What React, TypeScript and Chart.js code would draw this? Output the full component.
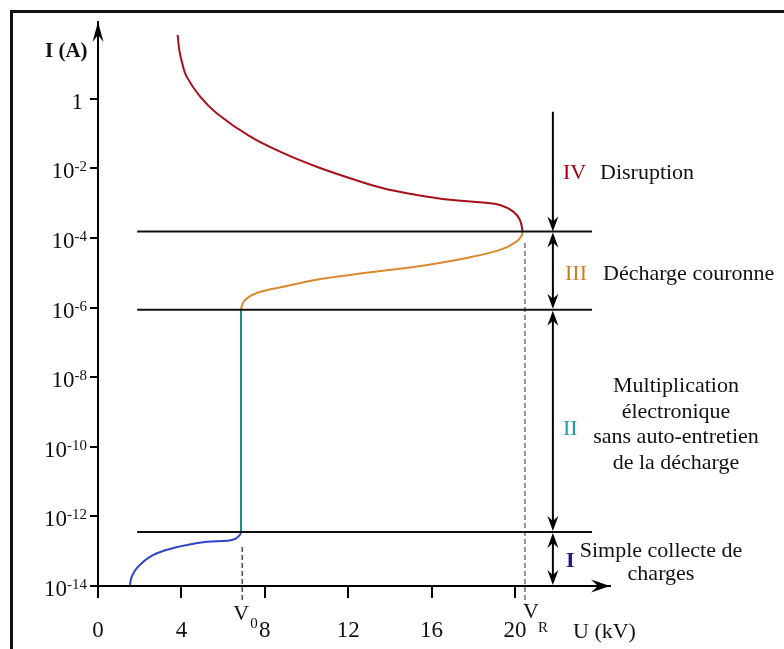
import { useEffect, useRef } from 'react';
import { Chart, registerables } from 'chart.js';

Chart.register(...registerables);

const FONT = '"Liberation Serif", "Times New Roman", serif';

// ---- axes ----
const uTicks = [0, 4, 8, 12, 16, 20];          // kV
const iTickExps = [0, -2, -4, -6, -8, -10, -12, -14]; // log10(I / A)
const uMax = 24.56;
const iMinExp = -14;
const iMaxExp = 2.21;

// ---- region I : simple collecte de charges (blue) ----
const blueU = [1.53, 1.62, 1.87, 2.49, 3.31, 4.27, 5.23, 6.19, 6.57, 6.81, 6.86];
const blueExp = [-13.97, -13.73, -13.48, -13.16, -12.96, -12.82, -12.73, -12.7, -12.65, -12.53, -12.45];

// ---- region II : multiplication électronique (teal) ----
const tealU = [6.86, 6.86];
const tealExp = [-12.45, -6.06];

// ---- region III : décharge couronne (orange) ----
const orangeU = [6.86, 6.9, 7.05, 7.61, 8.89, 10.49, 12.09, 13.67, 15.29, 17.68, 19.28, 20.08, 20.32, 20.37];
const orangeExp = [-6.06, -5.95, -5.78, -5.58, -5.4, -5.2, -5.06, -4.94, -4.82, -4.57, -4.34, -4.1, -3.93, -3.81];

// ---- region IV : disruption (red) ----
const redU = [3.82, 3.9, 4.05, 4.25, 4.89, 5.69, 7.29, 8.89, 10.49, 12.09, 13.68, 15.29, 16.88, 18.48, 19.28, 19.92, 20.24, 20.37];
const redExp = [1.84, 1.4, 1.0, 0.64, 0.07, -0.41, -1.08, -1.56, -1.95, -2.28, -2.57, -2.76, -2.9, -2.98, -3.05, -3.24, -3.48, -3.81];

// ---- region boundaries, thresholds, annotation arrows ----
const boundaryExps = [-3.81, -6.06, -12.45];
const boundaryU = [1.88, 23.7];
const v0U = 6.92;
const v0Exp = [-12.88, -14.42];
const vrU = 20.48;
const vrExp = [-4.14, -14.5];
const arrowU = 21.82;
const arrowTopExp = -0.37;

const regionNumerals = ['IV', 'III', 'II', 'I'];
const regionNames = [
  ['Disruption'],
  ['Décharge couronne'],
  ['Multiplication', 'électronique', 'sans auto-entretien', 'de la décharge'],
  ['Simple collecte de', 'charges'],
];

const pts = (us: number[], es: number[]) => us.map((u, i) => ({ x: u, y: Math.pow(10, es[i]) }));

function head(ctx: CanvasRenderingContext2D, tx: number, ty: number, dx: number, dy: number, len: number, hw: number, notch: number) {
  const px = -dy, py = dx;
  const bx = tx - dx * len, by = ty - dy * len;
  ctx.beginPath();
  ctx.moveTo(tx, ty);
  ctx.lineTo(bx + px * hw, by + py * hw);
  ctx.lineTo(tx - dx * (len - notch), ty - dy * (len - notch));
  ctx.lineTo(bx - px * hw, by - py * hw);
  ctx.closePath();
  ctx.fill();
}

const annot = {
  id: 'annot',
  afterDraw(chart: any) {
    const ctx: CanvasRenderingContext2D = chart.ctx;
    const xs = chart.scales.x, ys = chart.scales.y;
    const X = (u: number) => xs.getPixelForValue(u);
    const Y = (e: number) => ys.getPixelForValue(Math.pow(10, e));
    ctx.save();

    // frame (top & left)
    ctx.fillStyle = '#111';
    ctx.fillRect(10, 10, 774, 3);
    ctx.fillRect(10, 10, 3, 639);

    // axis arrowheads
    ctx.fillStyle = '#000';
    head(ctx, X(0), ys.top, 0, -1, 20, 5.5, 7);
    head(ctx, xs.right, Y(iMinExp), 1, 0, 19, 6.5, 7);

    // y tick labels
    ctx.fillStyle = '#111';
    ctx.textBaseline = 'alphabetic';
    const right = X(0) - 11;
    for (const e of iTickExps) {
      const y = Y(e) + 10;
      if (e === 0) {
        ctx.font = `23px ${FONT}`;
        ctx.textAlign = 'right';
        ctx.fillText('1', right - 4, y);
      } else {
        ctx.font = `15px ${FONT}`;
        const sup = String(e);
        const w = ctx.measureText(sup).width;
        ctx.textAlign = 'left';
        ctx.fillText(sup, right - w, y - 7);
        ctx.font = `23px ${FONT}`;
        ctx.textAlign = 'right';
        ctx.fillText('10', right - w, y);
      }
    }
    // x tick labels
    ctx.font = `23px ${FONT}`;
    ctx.textAlign = 'center';
    for (const u of uTicks) ctx.fillText(String(u), X(u), 637);

    // V0, VR
    ctx.textAlign = 'left';
    ctx.font = `22px ${FONT}`;
    ctx.fillText('V', X(v0U) - 9, 620);
    ctx.fillText('V', X(vrU) - 2, 618);
    ctx.font = `15px ${FONT}`;
    ctx.fillText('0', X(v0U) + 8, 628);
    ctx.fillText('R', X(vrU) + 13, 632);

    // axis titles
    ctx.font = `bold 21px ${FONT}`;
    ctx.fillText('I (A)', 45, 57);
    ctx.font = `22px ${FONT}`;
    ctx.fillText('U (kV)', 573, 638);

    // region arrows
    const ax = X(arrowU);
    const bTop = Y(boundaryExps[0]), bMid = Y(boundaryExps[1]), bLow = Y(boundaryExps[2]), bAxis = Y(iMinExp);
    ctx.strokeStyle = '#000';
    ctx.lineWidth = 2;
    ctx.fillStyle = '#000';
    const vline = (y1: number, y2: number) => {
      ctx.beginPath();
      ctx.moveTo(ax, y1);
      ctx.lineTo(ax, y2);
      ctx.stroke();
    };
    const L = 15, HW = 5.5, N = 5;
    vline(Y(arrowTopExp), bTop - 4);
    head(ctx, ax, bTop, 0, 1, L, HW, N);
    for (const [a, b] of [[bTop, bMid], [bMid, bLow], [bLow, bAxis]]) {
      vline(a + 4, b - 4);
      head(ctx, ax, a + 1, 0, -1, L, HW, N);
      head(ctx, ax, b - 1, 0, 1, L, HW, N);
    }

    // region texts
    const numColors = ['#A00010', '#CC7E22', '#1E9C9C', '#18188E'];
    ctx.textAlign = 'left';
    ctx.font = `22px ${FONT}`;
    ctx.fillStyle = numColors[0];
    ctx.fillText(regionNumerals[0], 563, 179);
    ctx.fillStyle = '#111';
    ctx.fillText(regionNames[0][0], 600, 179);

    ctx.fillStyle = numColors[1];
    ctx.fillText(regionNumerals[1], 565, 280);
    ctx.fillStyle = '#111';
    ctx.fillText(regionNames[1][0], 603, 280);

    ctx.fillStyle = numColors[2];
    ctx.fillText(regionNumerals[2], 563, 435);
    ctx.fillStyle = '#111';
    ctx.textAlign = 'center';
    regionNames[2].forEach((t, i) => ctx.fillText(t, 676, 392 + i * 25.5));

    ctx.textAlign = 'left';
    ctx.font = `bold 22px ${FONT}`;
    ctx.fillStyle = numColors[3];
    ctx.fillText(regionNumerals[3], 566, 567);
    ctx.font = `22px ${FONT}`;
    ctx.fillStyle = '#111';
    ctx.textAlign = 'center';
    ctx.fillText(regionNames[3][0], 661, 557);
    ctx.fillText(regionNames[3][1], 661, 580);

    ctx.restore();
  },
};

export default function App() {
  const ref = useRef<HTMLCanvasElement>(null);
  useEffect(() => {
    const curve = (data: any, color: string) => ({
      data, borderColor: color, borderWidth: 2, showLine: true, pointRadius: 0,
      tension: 0.4, fill: false,
    });
    const straight = (data: any, color: string, width: number, dash: number[] = []) => ({
      data, borderColor: color, borderWidth: width, showLine: true, pointRadius: 0, tension: 0, fill: false,
      borderDash: dash, clip: false as any,
    });
    const datasets: any[] = [
      ...boundaryExps.map((e) => straight(pts(boundaryU, [e, e]), '#111', 2)),
      curve(pts(blueU, blueExp), '#2A46C6'),
      straight(pts(tealU, tealExp), '#12948F', 2),
      curve(pts(orangeU, orangeExp), '#DA8A2E'),
      curve(pts(redU, redExp), '#A8101C'),
      straight(pts([v0U, v0U], v0Exp), '#555', 1.6, [5, 3]),
      straight(pts([vrU, vrU], vrExp), '#777', 1.6, [5, 3]),
    ];
    const chart = new Chart(ref.current as HTMLCanvasElement, {
      type: 'scatter',
      data: { datasets },
      options: {
        animation: false,
        responsive: false,
        devicePixelRatio: 1,
        events: [],
        layout: { padding: { left: 88, top: 22, right: 174, bottom: 51 } },
        plugins: { legend: { display: false }, tooltip: { enabled: false } },
        scales: {
          x: {
            type: 'linear',
            position: 'bottom',
            min: 0,
            max: uMax,
            afterBuildTicks: (s: any) => { s.ticks = uTicks.map((v) => ({ value: v })); },
            afterFit: (s: any) => { s.height = 12; },
            ticks: { display: false },
            grid: { drawOnChartArea: false, drawTicks: true, tickLength: 12, color: '#000', lineWidth: 2 },
            border: { display: true, color: '#000', width: 2 },
          },
          y: {
            type: 'logarithmic',
            position: 'left',
            min: Math.pow(10, iMinExp),
            max: Math.pow(10, iMaxExp),
            afterBuildTicks: (s: any) => { s.ticks = iTickExps.map((e) => ({ value: Math.pow(10, e) })); },
            afterFit: (s: any) => { s.width = 10; },
            ticks: { display: false },
            grid: { drawOnChartArea: false, drawTicks: true, tickLength: 8, color: '#000', lineWidth: 2 },
            border: { display: true, color: '#000', width: 2 },
          },
        },
      } as any,
      plugins: [annot],
    });
    return () => chart.destroy();
  }, []);
  return (
    <div style={{ position: 'fixed', left: 0, top: 0, width: 784, height: 649, background: '#fff' }}>
      <canvas ref={ref} width={784} height={649} style={{ display: 'block', width: 784, height: 649 }} />
    </div>
  );
}
